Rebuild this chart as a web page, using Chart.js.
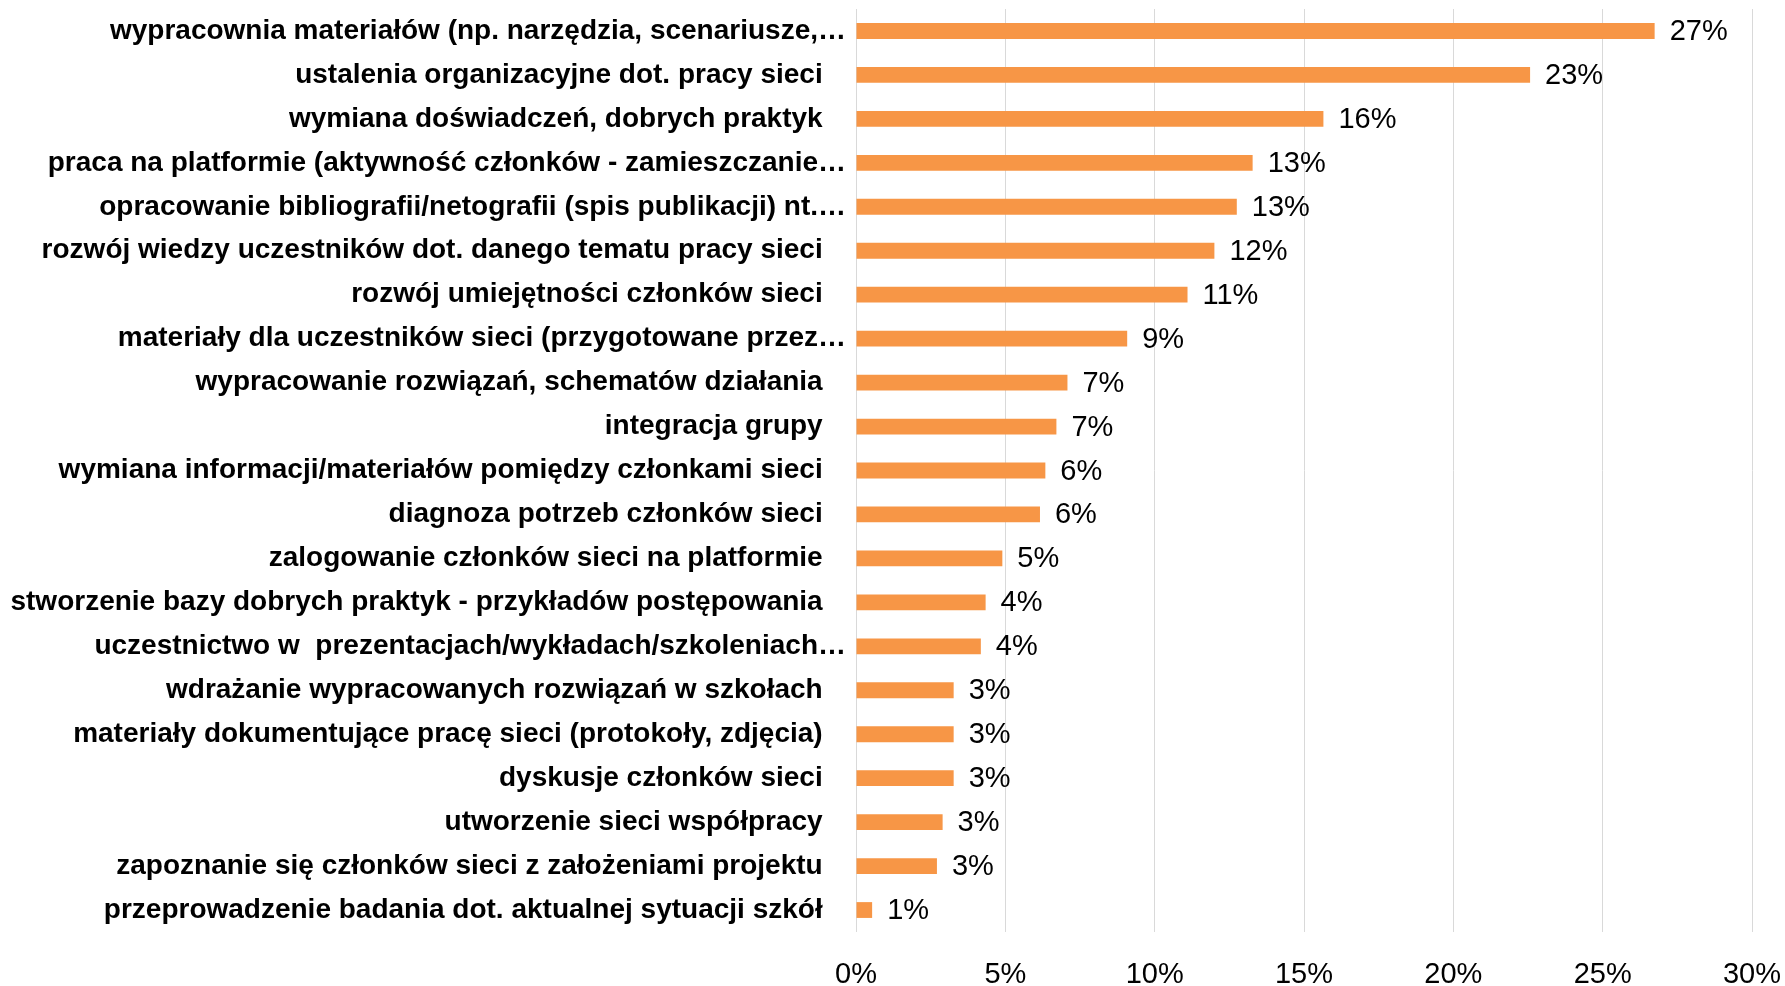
<!DOCTYPE html>
<html>
<head>
<meta charset="utf-8">
<script src="https://cdn.jsdelivr.net/npm/chart.js@4/dist/chart.umd.min.js"></script>
<style>
    html, body { margin: 0; padding: 0; background: #fff; }
    #wrap { width: 1785px; height: 986px; position: relative; }
</style>
</head>
<body>
<div id="wrap"><canvas id="bar-chart"></canvas></div>
<script>
const categories = [
    'wypracownia materiałów (np. narzędzia, scenariusze,…',
    'ustalenia organizacyjne dot. pracy sieci',
    'wymiana doświadczeń, dobrych praktyk',
    'praca na platformie (aktywność członków - zamieszczanie…',
    'opracowanie bibliografii/netografii (spis publikacji) nt.…',
    'rozwój wiedzy uczestników dot. danego tematu pracy sieci',
    'rozwój umiejętności członków sieci',
    'materiały dla uczestników sieci (przygotowane przez…',
    'wypracowanie rozwiązań, schematów działania',
    'integracja grupy',
    'wymiana informacji/materiałów pomiędzy członkami sieci',
    'diagnoza potrzeb członków sieci',
    'zalogowanie członków sieci na platformie',
    'stworzenie bazy dobrych praktyk - przykładów postępowania',
    'uczestnictwo w  prezentacjach/wykładach/szkoleniach…',
    'wdrażanie wypracowanych rozwiązań w szkołach',
    'materiały dokumentujące pracę sieci (protokoły, zdjęcia)',
    'dyskusje członków sieci',
    'utworzenie sieci współpracy',
    'zapoznanie się członków sieci z założeniami projektu',
    'przeprowadzenie badania dot. aktualnej sytuacji szkół'
];
const shares = [26.74, 22.57, 15.65, 13.28, 12.75, 12.0, 11.1, 9.08, 7.08, 6.71, 6.34,
                6.16, 4.90, 4.34, 4.18, 3.27, 3.27, 3.27, 2.90, 2.71, 0.54];
const xTicks = [0, 5, 10, 15, 20, 25, 30];

const FONT = "'Liberation Sans', Arial, sans-serif";

// percent labels to the right of each bar, placed from the bar elements
const valueLabels = {
    id: 'valueLabels',
    afterDatasetsDraw(chart) {
        const ctx = chart.ctx;
        const meta = chart.getDatasetMeta(0);
        ctx.save();
        ctx.font = '29px ' + FONT;
        ctx.fillStyle = '#000';
        ctx.textAlign = 'left';
        ctx.textBaseline = 'middle';
        meta.data.forEach((bar, i) => {
            ctx.fillText(Math.round(shares[i]) + '%', bar.x + 15, bar.y + 1);
        });
        ctx.restore();
    }
};

function initChart() {
    const ctx = document.getElementById('bar-chart').getContext('2d');
    new Chart(ctx, {
        type: 'bar',
        data: {
            labels: categories,
            datasets: [{
                data: shares,
                backgroundColor: '#F79646',
                borderWidth: 0,
                barPercentage: 0.36,
                categoryPercentage: 1
            }]
        },
        options: {
            indexAxis: 'y',
            responsive: true,
            maintainAspectRatio: false,
            animation: false,
            layout: { padding: { left: 6, right: 33, top: 9, bottom: 0 } },
            scales: {
                x: {
                    min: 0,
                    max: 30,
                    afterBuildTicks: axis => { axis.ticks = xTicks.map(v => ({ value: v })); },
                    grid: { color: '#D9D9D9', lineWidth: 1, drawTicks: false },
                    border: { display: false },
                    ticks: {
                        color: '#000',
                        padding: 26,
                        maxRotation: 0,
                        font: { family: FONT, size: 29 },
                        callback: v => v + '%'
                    },
                    afterFit: axis => {
                        axis.height = 54;
                        axis.paddingLeft = 0;
                        axis.paddingRight = 0;
                    }
                },
                y: {
                    grid: { display: false, drawTicks: false },
                    border: { display: false },
                    ticks: {
                        color: '#000',
                        padding: 10,
                        autoSkip: false,
                        font: { family: FONT, size: 28, weight: 'bold' },
                        // Excel lets the truncated labels run a little further right
                        callback: function (v) {
                            const t = this.getLabelForValue(v);
                            return t.endsWith('…') ? t : t + '   ';
                        }
                    },
                    afterFit: axis => {
                        axis.width = 850;
                        axis.paddingTop = 0;
                        axis.paddingBottom = 0;
                    }
                }
            },
            plugins: {
                legend: { display: false },
                tooltip: { enabled: false }
            }
        },
        plugins: [valueLabels]
    });
}

window.onload = () => {
    initChart();
};
</script>
</body>
</html>
